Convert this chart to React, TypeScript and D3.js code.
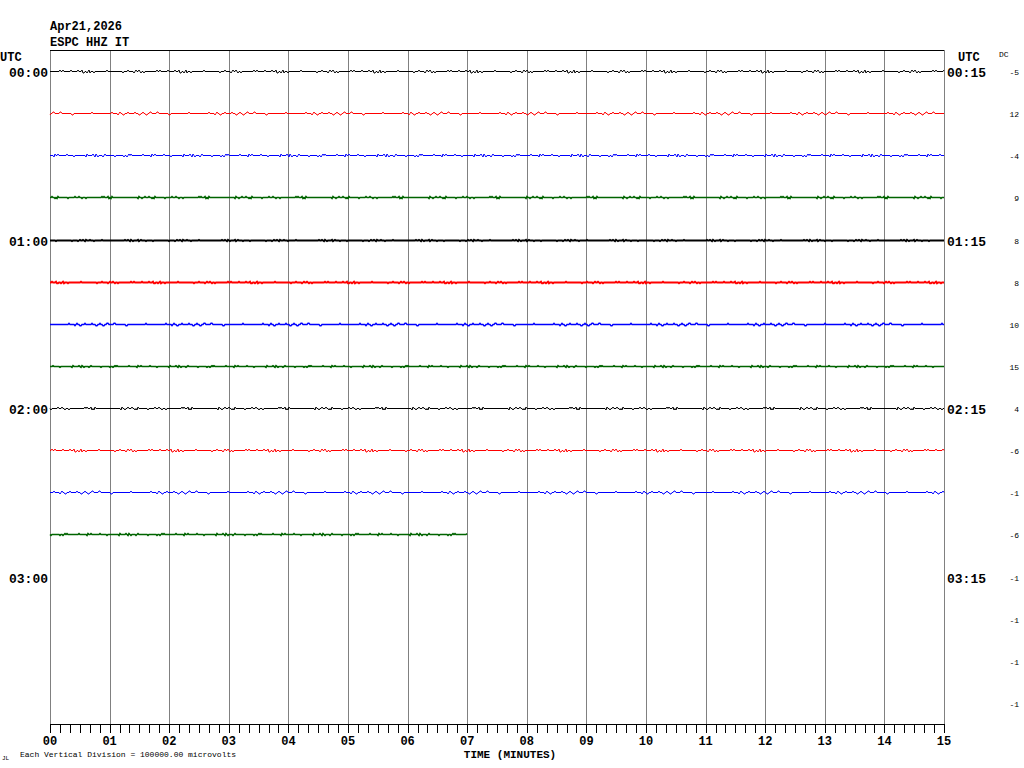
import React from "react";
import * as d3 from "d3";

const TITLE_DATE = "Apr21,2026";
const TITLE_STATION = "ESPC HHZ IT";
const LEFT_LABELS = ["00:00", "01:00", "02:00", "03:00"];
const RIGHT_LABELS = ["00:15", "01:15", "02:15", "03:15"];
const DC_VALUES = ["-5", "12", "-4", "9", "8", "8", "10", "15", "4", "-6", "-1", "-6", "-1", "-1", "-1", "-1"];
const MINUTE_TICKS = ["00", "01", "02", "03", "04", "05", "06", "07", "08", "09", "10", "11", "12", "13", "14", "15"];
const TRACE_COLORS = ["#000000", "#ff0000", "#0000ff", "#006400"];
// minutes of data recorded on each row (12 rows with data)
const TRACE_MINUTES = [15, 15, 15, 15, 15, 15, 15, 15, 15, 15, 15, 7];
// apparent trace thickness per row
const TRACE_WEIGHT = [1, 1, 1, 1.6, 2, 2, 1.4, 1.6, 1, 1, 1, 1.6];
// apparent jitter amplitude per row (counts)
const TRACE_AMP = [1, 1, 1, 0.6, 0.4, 0.5, 0.8, 0.5, 1, 1, 1, 0.6];
// waveform jitter pattern (counts)
const WAVE = [0, 0, 1, 0, 0, 0, -1, 0, 0, 0, 0, 1, 0, 0, 0, 0, 0, -1, 0, 0, 1, 0, 0, 0, 0, 0, -1, 0, 0, 0, 1, 0, 0, 0, 0, 0, 0, -1, 0, 0, 0, 1, 0, 0, -1, 0, 0, 0, 0, 0, 1, 0, 0, 0, 0, -1, 0, 0, 0, 0, 0, 1, 0, 0, 0, -1, 0, 0, 0, 0, 1, 0, 0, 0, 0, 0, -1, 0, 0, 1, 0, 0, 0, 0, 0, 0, -1, 0, 0, 0, 0, 1, 0, 0, 0, 0, 0];

const W = 1024, H = 768;
const L = 50, R = 944, T = 50, B = 724;
const ROWS = 16;

export default function App() {
  const x = d3.scaleLinear().domain([0, 15]).range([L, R]);
  const row = d3.scaleBand<number>().domain(d3.range(ROWS)).range([T, B]);
  const rowY = (i: number) => Math.round((row(i) as number) + row.bandwidth() / 2) + 0.5;
  const amp = d3.scaleLinear().domain([-1, 1]).range([1.5, -1.5]);

  const mono = "'Liberation Mono', 'DejaVu Sans Mono', monospace";
  const line = d3.line<[number, number]>().x((d) => d[0]).y((d) => d[1]);

  const steps = [7, 11, 13, 5, 3, 7, 11, 13, 5, 7, 11, 13];
  const traces = TRACE_MINUTES.map((mins, i) => {
    const x0 = x(0), x1 = x(mins);
    const pts: [number, number][] = [];
    let k = 0;
    for (let px = x0; px <= x1; px += 1, k++) {
      const v = WAVE[(k * steps[i] + i * 17) % WAVE.length] * TRACE_AMP[i];
      pts.push([px, rowY(i) + amp(v)]);
    }
    return { d: line(pts) || "", color: TRACE_COLORS[i % 4], w: TRACE_WEIGHT[i] };
  });

  const minorTicks = d3.range(0, 15 * 6 + 1).map((k) => k / 6);

  return (
    <svg width={W} height={H} style={{ position: "absolute", left: 0, top: 0, background: "#fff" }}>
      <rect x={0} y={0} width={W} height={H} fill="#fff" />
      <text x={50} y={30} fontFamily={mono} fontWeight="bold" fontSize={12}>{TITLE_DATE}</text>
      <text x={50} y={46} fontFamily={mono} fontWeight="bold" fontSize={12}>{TITLE_STATION}</text>

      {MINUTE_TICKS.map((_, m) => (
        <line key={"g" + m} x1={Math.round(x(m)) + 0.5} x2={Math.round(x(m)) + 0.5} y1={T} y2={B} stroke="#808080" strokeWidth={1} />
      ))}
      <line x1={L} x2={R} y1={T + 0.5} y2={T + 0.5} stroke="#000" strokeWidth={1} />

      {traces.map((t, i) => (
        <path key={"t" + i} d={t.d} fill="none" stroke={t.color} strokeWidth={t.w} />
      ))}

      <text x={0} y={61} fontFamily={mono} fontWeight="bold" fontSize={12}>UTC</text>
      <text x={958} y={61} fontFamily={mono} fontWeight="bold" fontSize={12}>UTC</text>
      <text x={999} y={57} fontFamily={mono} fontSize={8}>DC</text>
      {LEFT_LABELS.map((s, j) => (
        <text key={"l" + j} x={48} y={rowY(j * 4) + 5} textAnchor="end" fontFamily={mono} fontWeight="bold" fontSize={13}>{s}</text>
      ))}
      {RIGHT_LABELS.map((s, j) => (
        <text key={"r" + j} x={947} y={rowY(j * 4) + 5} fontFamily={mono} fontWeight="bold" fontSize={13}>{s}</text>
      ))}
      {DC_VALUES.map((s, i) => (
        <text key={"dc" + i} x={1019} y={rowY(i) + 3} textAnchor="end" fontFamily={mono} fontSize={8}>{s}</text>
      ))}

      <line x1={L} x2={R} y1={B + 0.5} y2={B + 0.5} stroke="#000" strokeWidth={1} />
      {minorTicks.map((m, k) => (
        <line key={"mt" + k} x1={Math.round(x(m)) + 0.5} x2={Math.round(x(m)) + 0.5} y1={B} y2={B + 9} stroke="#000" strokeWidth={1} />
      ))}
      {MINUTE_TICKS.map((s, m) => (
        <text key={"tl" + m} x={x(m)} y={745} textAnchor="middle" fontFamily={mono} fontWeight="bold" fontSize={12}>{s}</text>
      ))}
      <text x={510} y={758} textAnchor="middle" fontFamily={mono} fontWeight="bold" fontSize={11}>TIME (MINUTES)</text>
      <text x={20} y={757} fontFamily={mono} fontSize={8}>Each Vertical Division = 100000.00 microvolts</text>
      <text x={2} y={760} fontFamily={mono} fontSize={6}>JL</text>
    </svg>
  );
}
